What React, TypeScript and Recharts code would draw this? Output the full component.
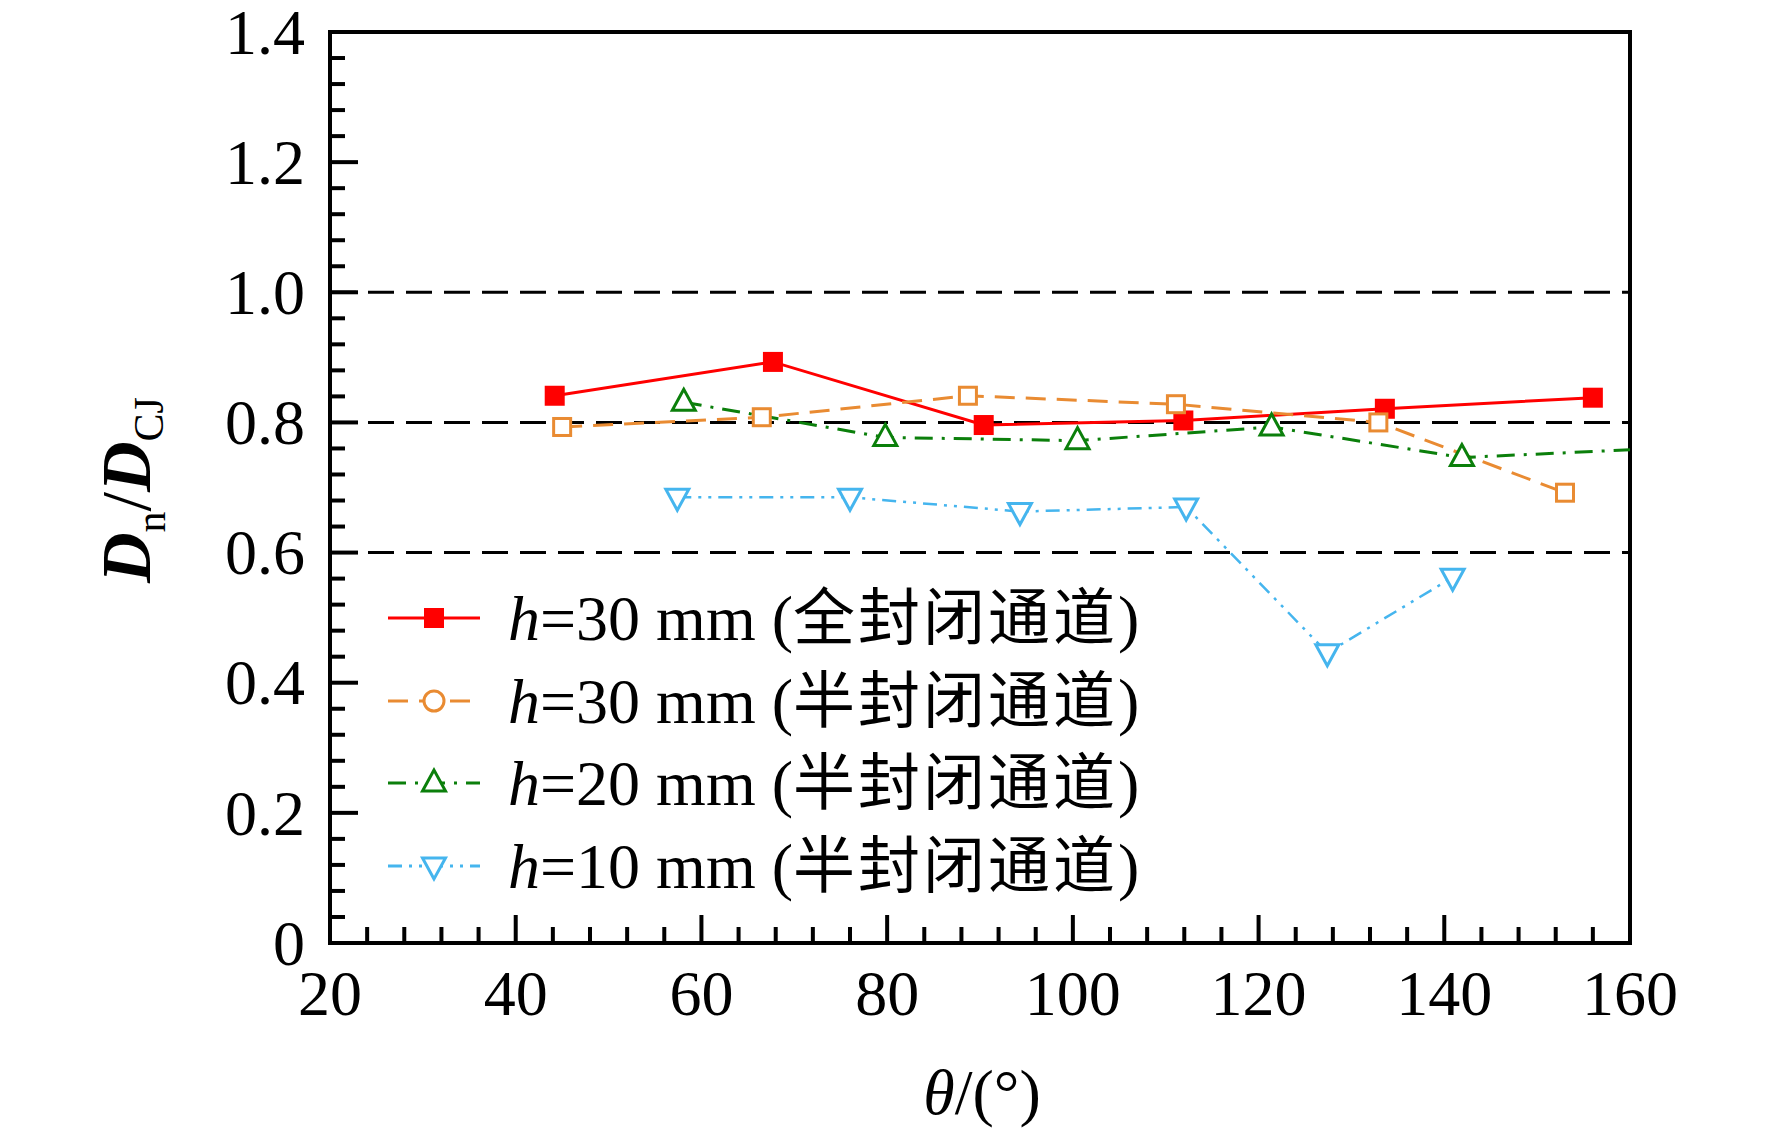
import React from 'react';
import { LineChart, Line, XAxis, YAxis, ReferenceLine, ReferenceArea } from 'recharts';

const FONT = "'Liberation Serif', 'Times New Roman', serif";
const CJK = "'Noto Sans CJK SC', sans-serif";

// Data (θ in degrees, Dn/DCJ)
const fullH30X = [44.2, 67.7, 90.4, 111.9, 133.6, 156.0];
const fullH30Y = [0.841, 0.893, 0.796, 0.803, 0.821, 0.838];
const semiH30X = [45.0, 66.5, 88.7, 111.1, 132.9, 153.0];
const semiH30Y = [0.793, 0.808, 0.841, 0.828, 0.8, 0.692];
const semiH20X = [58.1, 79.8, 100.5, 121.4, 141.9, 160.0];
const semiH20Y = [0.831, 0.777, 0.772, 0.793, 0.746, 0.758];
const semiH20Marked = [true, true, true, true, true, false];
const semiH10X = [57.4, 76.0, 94.3, 112.2, 127.4, 140.9];
const semiH10Y = [0.685, 0.685, 0.663, 0.67, 0.446, 0.562];

const xMajorTicks = [20, 40, 60, 80, 100, 120, 140, 160];
const xTickLabels = ['20', '40', '60', '80', '100', '120', '140', '160'];
const yMajorTicks = [0, 0.2, 0.4, 0.6, 0.8, 1.0, 1.2, 1.4];
const yTickLabels = ['0', '0.2', '0.4', '0.6', '0.8', '1.0', '1.2', '1.4'];
const refLevels = [0.6, 0.8, 1.0];

const legendNames = ['全封闭通道', '半封闭通道', '半封闭通道', '半封闭通道'];
const legendH = ['30', '30', '20', '10'];

const xMinorStep = 4;
const yMinorStep = 0.04;
const xAllTicks: number[] = [];
for (let i = 0; i <= 35; i++) xAllTicks.push(+(20 + i * xMinorStep).toFixed(4));
const yAllTicks: number[] = [];
for (let i = 0; i <= 35; i++) yAllTicks.push(+(i * yMinorStep).toFixed(4));

const zip = (xs: number[], ys: number[], marks?: boolean[]) =>
  xs.map((x, i) => ({ x, y: ys[i], m: marks ? marks[i] : true }));

const dataRed = zip(fullH30X, fullH30Y);
const dataOrange = zip(semiH30X, semiH30Y);
const dataGreen = zip(semiH20X, semiH20Y, semiH20Marked);
const dataBlue = zip(semiH10X, semiH10Y);

const RED = '#ff0000';
const ORANGE = '#e98b32';
const GREEN = '#0b7f0b';
const BLUE = '#45b5ee';

const DASH_ORANGE = '20 11';
const DASH_GREEN = '18 9 3 9';
const DASH_BLUE = '14 7 3 7 3 7';

const isMajor = (v: number, step: number) => Math.abs(v / step - Math.round(v / step)) < 1e-6;

const YTick = (props: any) => {
  const { x, y, payload } = props;
  const v = payload.value;
  const major = isMajor(v, 0.2);
  const idx = yMajorTicks.findIndex((t) => Math.abs(t - v) < 1e-6);
  return (
    <g>
      <line x1={x} x2={x + (major ? 28 : 15)} y1={y} y2={y} stroke="#000" strokeWidth={4} />
      {major && idx >= 0 && (
        <text x={x - 25} y={y} dy="0.34em" textAnchor="end" fontFamily={FONT} fontSize={64} fill="#000">
          {yTickLabels[idx]}
        </text>
      )}
    </g>
  );
};

const XTick = (props: any) => {
  const { x, y, payload } = props;
  const v = payload.value;
  const major = isMajor(v, 20);
  const idx = xMajorTicks.findIndex((t) => Math.abs(t - v) < 1e-6);
  return (
    <g>
      <line x1={x} x2={x} y1={y} y2={y - (major ? 28 : 16)} stroke="#000" strokeWidth={4} />
      {major && idx >= 0 && (
        <text x={x} y={y + 72} textAnchor="middle" fontFamily={FONT} fontSize={64} fill="#000">
          {xTickLabels[idx]}
        </text>
      )}
    </g>
  );
};

const FilledSquare = ({ cx, cy, color, s = 20 }: any) => (
  <rect x={cx - s / 2} y={cy - s / 2} width={s} height={s} fill={color} />
);
const OpenSquare = ({ cx, cy, color, s = 17 }: any) => (
  <rect x={cx - s / 2} y={cy - s / 2} width={s} height={s} fill="#fff" stroke={color} strokeWidth={3} />
);
const OpenCircle = ({ cx, cy, color, r = 10 }: any) => (
  <circle cx={cx} cy={cy} r={r} fill="#fff" stroke={color} strokeWidth={3} />
);
const TriUp = ({ cx, cy, color }: any) => (
  <polygon
    points={`${cx},${cy - 13} ${cx - 11.5},${cy + 8} ${cx + 11.5},${cy + 8}`}
    fill="#fff"
    stroke={color}
    strokeWidth={3}
  />
);
const TriDown = ({ cx, cy, color }: any) => (
  <polygon
    points={`${cx},${cy + 13} ${cx - 11.5},${cy - 8} ${cx + 11.5},${cy - 8}`}
    fill="#fff"
    stroke={color}
    strokeWidth={3}
  />
);

const mkDot = (Comp: any, color: string) => (props: any) => {
  const { cx, cy, index, payload } = props;
  if (cx == null || cy == null || (payload && payload.m === false)) return <g key={`d${index}`} />;
  return (
    <g key={`d${index}`}>
      <Comp cx={cx} cy={cy} color={color} />
    </g>
  );
};

const Legend = () => {
  const rows = [
    { y: 618, color: RED, dash: undefined, marker: FilledSquare, w: 3 },
    { y: 701, color: ORANGE, dash: DASH_ORANGE, marker: OpenCircle, w: 3 },
    { y: 783, color: GREEN, dash: DASH_GREEN, marker: TriUp, w: 3 },
    { y: 866, color: BLUE, dash: DASH_BLUE, marker: TriDown, w: 3 },
  ];
  return (
    <svg
      width={1772}
      height={1137}
      style={{ position: 'absolute', left: 0, top: 0, pointerEvents: 'none' }}
    >
      {rows.map((r, i) => {
        const M = r.marker;
        return (
          <g key={i}>
            <line
              x1={388}
              x2={480}
              y1={r.y}
              y2={r.y}
              stroke={r.color}
              strokeWidth={r.w}
              strokeDasharray={r.dash}
            />
            <M cx={434} cy={r.y} color={r.color} />
            <text x={508} y={r.y + 22} fontFamily={FONT} fontSize={64} fill="#000">
              <tspan fontStyle="italic">h</tspan>
              <tspan>{`=${legendH[i]} mm (`}</tspan>
              <tspan fontFamily={CJK} fontSize={62} letterSpacing={3}>
                {legendNames[i]}
              </tspan>
              <tspan>)</tspan>
            </text>
          </g>
        );
      })}
      <text transform="translate(150,490) rotate(-90)" textAnchor="middle" fontFamily={FONT} fontSize={70} fill="#000">
        <tspan fontStyle="italic" fontWeight="bold">D</tspan>
        <tspan fontSize={42} dy={15}>n</tspan>
        <tspan dy={-15}>/</tspan>
        <tspan fontStyle="italic" fontWeight="bold">D</tspan>
        <tspan fontSize={42} dy={13}>CJ</tspan>
      </text>
      <text x={982} y={1114} textAnchor="middle" fontFamily={FONT} fontSize={64} fill="#000">
        <tspan fontStyle="italic">θ</tspan>
        <tspan>/(°)</tspan>
      </text>
    </svg>
  );
};

export default function App() {
  return (
    <div style={{ position: 'absolute', left: 0, top: 0, width: 1772, height: 1137, background: '#fff' }}>
      <LineChart width={1772} height={1137} margin={{ top: 32, right: 142, bottom: 0, left: 0 }}>
        <XAxis
          dataKey="x"
          type="number"
          domain={[20, 160]}
          ticks={xAllTicks}
          interval={0}
          tick={<XTick />}
          tickLine={false}
          tickSize={0}
          tickMargin={0}
          height={194}
          axisLine={false}
          allowDataOverflow
        />
        <YAxis
          dataKey="y"
          type="number"
          domain={[0, 1.4]}
          ticks={yAllTicks}
          interval={0}
          tick={<YTick />}
          tickLine={false}
          tickSize={0}
          tickMargin={0}
          width={330}
          axisLine={false}
          allowDataOverflow
        />
        {refLevels.map((v) => (
          <ReferenceLine key={v} y={v} stroke="#000" strokeWidth={3} strokeDasharray="26 12" />
        ))}
        <Line
          data={dataRed}
          dataKey="y"
          type="linear"
          stroke={RED}
          strokeWidth={3}
          dot={mkDot(FilledSquare, RED)}
          activeDot={false}
          isAnimationActive={false}
        />
        <Line
          data={dataOrange}
          dataKey="y"
          type="linear"
          stroke={ORANGE}
          strokeWidth={3}
          strokeDasharray={DASH_ORANGE}
          dot={mkDot(OpenSquare, ORANGE)}
          activeDot={false}
          isAnimationActive={false}
        />
        <Line
          data={dataGreen}
          dataKey="y"
          type="linear"
          stroke={GREEN}
          strokeWidth={3}
          strokeDasharray={DASH_GREEN}
          dot={mkDot(TriUp, GREEN)}
          activeDot={false}
          isAnimationActive={false}
        />
        <Line
          data={dataBlue}
          dataKey="y"
          type="linear"
          stroke={BLUE}
          strokeWidth={2.5}
          strokeDasharray={DASH_BLUE}
          dot={mkDot(TriDown, BLUE)}
          activeDot={false}
          isAnimationActive={false}
        />
        <ReferenceArea
          x1={20}
          x2={160}
          y1={0}
          y2={1.4}
          stroke="#000"
          strokeWidth={4}
          fill="none"
          fillOpacity={0}
          ifOverflow="visible"
        />
      </LineChart>
      <Legend />
    </div>
  );
}
